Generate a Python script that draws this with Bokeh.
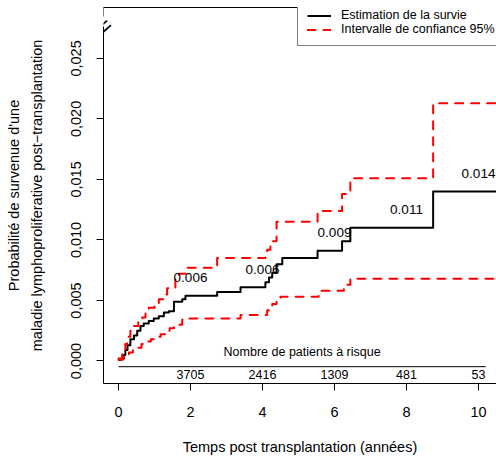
import numpy as np
from bokeh.plotting import figure
from bokeh.models import (LinearAxis, FixedTicker, Range1d, Legend, LegendItem)
from bokeh.core.properties import value
from bokeh.embed import file_html
from bokeh.resources import INLINE

FONT = "Liberation Sans"

# ---------------- data ----------------
est_t = [0, 0.08, 0.15, 0.19, 0.25, 0.33, 0.43, 0.52, 0.61, 0.70, 0.84, 0.98, 1.12,
         1.26, 1.40, 1.54, 1.77, 1.86, 2.74, 3.39, 4.08, 4.18, 4.27, 4.39, 4.55,
         5.53, 6.21, 6.44, 8.74, 10.8]
est_v = [0.0001, 0.0002, 0.0005, 0.0009, 0.0013, 0.0018, 0.0021, 0.0025, 0.0029,
         0.0031, 0.0033, 0.0035, 0.0037, 0.0040, 0.0041, 0.0049, 0.0051, 0.0054,
         0.0057, 0.0061, 0.0065, 0.0069, 0.0073, 0.0080, 0.0085, 0.0091, 0.0099,
         0.0110, 0.0140, 0.0140]

upper_t = [0, 0.10, 0.19, 0.24, 0.33, 0.43, 0.55, 0.66, 0.75, 0.84, 1.00, 1.12, 1.26,
           1.35, 1.58, 1.68, 1.86, 2.74, 4.08, 4.13, 4.22, 4.39, 5.53, 6.21, 6.44,
           8.74, 10.8]
upper_v = [0.0002, 0.0008, 0.0014, 0.0020, 0.0025, 0.0029, 0.0033, 0.0036, 0.0040,
           0.0044, 0.0047, 0.0051, 0.0055, 0.0060, 0.0068, 0.0072, 0.0077, 0.0085,
           0.0088, 0.0092, 0.0099, 0.0115, 0.0124, 0.0138, 0.0151, 0.0213, 0.0213]

lower_t = [0, 0.12, 0.29, 0.40, 0.52, 0.64, 0.75, 0.90, 1.03, 1.17, 1.31, 1.42, 1.54,
           1.77, 1.86, 3.39, 4.13, 4.27, 4.39, 4.50, 5.56, 6.26, 6.44, 10.8]
lower_v = [0.0001, 0.0003, 0.0007, 0.0009, 0.0011, 0.0014, 0.0016, 0.0018, 0.0020,
           0.0022, 0.0025, 0.0027, 0.0030, 0.0034, 0.0035, 0.0038, 0.0042, 0.0047,
           0.0049, 0.0053, 0.0058, 0.0063, 0.0068, 0.0068]

label_times = [2, 4, 6, 8, 10]
label_texts = ["0.006", "0.006", "0.009", "0.011", "0.014"]

risk_times = [2, 4, 6, 8, 10]
risk_counts = ["3705", "2416", "1309", "481", "53"]
risk_title = "Nombre de patients à risque"
risk_title_x = 5.1
risk_title_y = 0.00076
risk_line_x = [0, 10.2]
risk_line_y = -0.00047
risk_num_y = -0.00110

x_ticks = [0, 2, 4, 6, 8, 10]
y_ticks = [0.0, 0.005, 0.010, 0.015, 0.020, 0.025]
y_tick_labels = ["0,000", "0,005", "0,010", "0,015", "0,020", "0,025"]
break_y = 0.02804
break_lo, break_hi = 0.02765, 0.02843

legend_labels = ["Estimation de la survie", "Intervalle de confiance 95%"]
x_title = "Temps post transplantation (années)"
y_title_1 = "Probabilité de survenue d'une"
y_title_2 = "maladie lymphoproliferative post\u2212transplantation"

X_START, X_END = -0.4167, 10.5
Y_START, Y_END = -0.00186, 0.029205

# ---------------- figure ----------------
p = figure(width=496, height=457, output_backend="svg", toolbar_location=None,
           x_range=Range1d(X_START, X_END), y_range=Range1d(Y_START, Y_END),
           min_border_left=103, min_border_right=0, min_border_top=7,
           min_border_bottom=71)
p.outline_line_color = None
p.xgrid.visible = False
p.ygrid.visible = False
p.background_fill_color = "white"
p.border_fill_color = "white"

# x axis
xa = p.xaxis[0]
xa.ticker = FixedTicker(ticks=x_ticks)
xa.major_tick_out = 7
xa.major_tick_in = 0
xa.minor_tick_out = 0
xa.minor_tick_in = 0
xa.axis_line_color = "black"
xa.major_tick_line_color = "black"
xa.major_label_text_font = FONT
xa.major_label_text_font_size = "14.5px"
xa.major_label_text_color = "black"
xa.major_label_standoff = 16
xa.axis_label = x_title
xa.axis_label_text_font = FONT
xa.axis_label_text_font_size = "14.5px"
xa.axis_label_text_font_style = "normal"
xa.axis_label_text_color = "black"
xa.axis_label_standoff = 19

# y axis (line stops below the axis break)
ya = p.yaxis[0]
ya.ticker = FixedTicker(ticks=y_ticks)
ya.bounds = (Y_START, break_lo)
ya.major_label_overrides = {t: l for t, l in zip(y_ticks, y_tick_labels)}
ya.major_tick_out = 7
ya.major_tick_in = 0
ya.minor_tick_out = 0
ya.minor_tick_in = 0
ya.axis_line_color = "black"
ya.major_tick_line_color = "black"
ya.major_label_orientation = "vertical"
ya.major_label_text_font = FONT
ya.major_label_text_font_size = "14.5px"
ya.major_label_text_color = "black"
ya.major_label_standoff = 15
ya.axis_label = y_title_2
ya.axis_label_text_font = FONT
ya.axis_label_text_font_size = "14.5px"
ya.axis_label_text_font_style = "normal"
ya.axis_label_text_color = "black"
ya.axis_label_standoff = 24

# outer line of the y title: an axis that only carries a label
ya2 = LinearAxis(ticker=FixedTicker(ticks=[]), major_tick_out=0, major_tick_in=0,
                 minor_tick_out=0, minor_tick_in=0, major_label_standoff=0,
                 axis_line_color=None, axis_label=y_title_1,
                 axis_label_text_font=FONT, axis_label_text_font_size="14.5px",
                 axis_label_text_font_style="normal", axis_label_text_color="black",
                 axis_label_standoff=4)
p.add_layout(ya2, "left")

# axis break: upper piece of the left border plus the slanted "=" mark
ya3 = LinearAxis(ticker=FixedTicker(ticks=[break_y]), fixed_location=X_START,
                 bounds=(break_hi, Y_END),
                 major_label_overrides={break_y: "="},
                 major_label_orientation=0.72,
                 major_label_text_font=FONT, major_label_text_font_size="24px",
                 major_label_text_color="black", major_label_standoff=-6,
                 major_tick_out=0, major_tick_in=0, minor_tick_out=0, minor_tick_in=0,
                 axis_line_color="black")
p.add_layout(ya3, "left")

# top border as an empty axis
top = LinearAxis(ticker=FixedTicker(ticks=[]), major_tick_out=0, major_tick_in=0,
                 minor_tick_out=0, minor_tick_in=0, major_label_standoff=0,
                 axis_label_standoff=0, axis_line_color="black")
p.add_layout(top, "above")

# ---------------- curves ----------------
r_est = p.step(est_t, est_v, mode="after", line_color="black", line_width=2,
               line_join="round")
r_up = p.step(upper_t, upper_v, mode="after", line_color="red", line_width=2,
              line_dash="8 8", line_cap="round", line_join="round")
r_lo = p.step(lower_t, lower_v, mode="after", line_color="red", line_width=2,
              line_dash="8 8", line_cap="round", line_join="round")

# value labels above the estimate
et = np.array(est_t)
ev = np.array(est_v)
label_y = [float(ev[np.searchsorted(et, t, side="right") - 1]) for t in label_times]
p.text(x=label_times, y=label_y, text=label_texts, text_font=value(FONT),
       text_font_size=value("13.5px"), text_align="center", text_baseline="middle",
       y_offset=-18, text_color="black")

# risk table
p.line(risk_line_x, [risk_line_y, risk_line_y], line_color="black", line_width=1)
p.text(x=[risk_title_x], y=[risk_title_y], text=[risk_title], text_font=value(FONT),
       text_font_size=value("12.5px"), text_align="center", text_baseline="middle",
       text_color="black")
p.text(x=risk_times, y=[risk_num_y] * len(risk_times), text=risk_counts,
       text_font=value(FONT), text_font_size=value("12.5px"), text_align="center",
       text_baseline="middle", text_color="black")

# legend
legend = Legend(items=[LegendItem(label=legend_labels[0], renderers=[r_est]),
                       LegendItem(label=legend_labels[1], renderers=[r_up])],
                location=(194, 337))
legend.border_line_color = "black"
legend.border_line_width = 1
legend.background_fill_color = "white"
legend.background_fill_alpha = 1
legend.label_text_font = FONT
legend.label_text_font_size = "12.5px"
legend.label_text_color = "black"
legend.glyph_width = 24
legend.glyph_height = 13
legend.label_height = 13
legend.label_standoff = 10
legend.spacing = 0
legend.padding = 9
legend.margin = 0
p.add_layout(legend)

open("out.html", "w").write(file_html(p, INLINE))
